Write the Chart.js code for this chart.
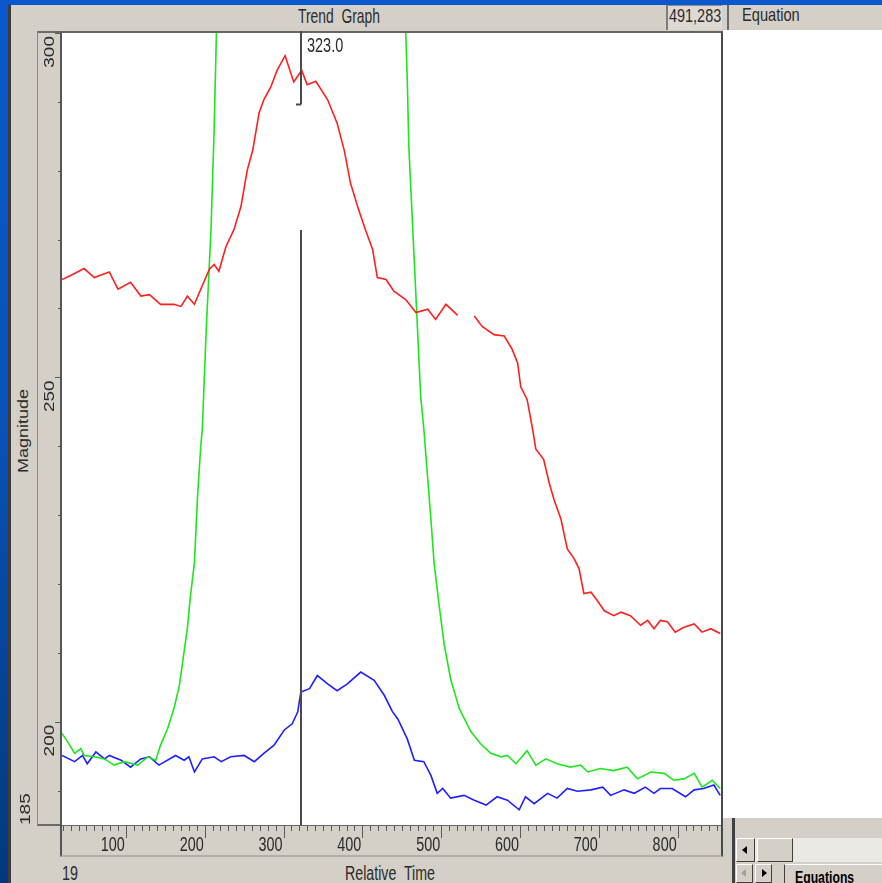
<!DOCTYPE html>
<html>
<head>
<meta charset="utf-8">
<title>Trend Graph</title>
<script src="https://cdn.jsdelivr.net/npm/chart.js@4.4.1/dist/chart.umd.min.js"></script>
<style>
  body { margin: 0; background: #d4d0c8; font-family: "Liberation Sans", Arial, sans-serif; }
  #janela { position: relative; width: 882px; height: 883px; overflow: hidden; background: #d4d0c8; }
  .box { position: absolute; box-sizing: border-box; }
  .txt { position: absolute; white-space: nowrap; line-height: 1; color: #2b2b2b; transform-origin: 0 0; }
  #grafico { position: absolute; left: 0; top: 0; }
</style>
</head>
<body>
<div id="janela">
  <!-- window frame -->
  <div class="box" style="left:0;top:0;width:882px;height:5px;background:#0a58cc"></div>
  <div class="box" style="left:0;top:0;width:8px;height:883px;background:linear-gradient(#0a58cc,#0a52bc 45%,#02397c)"></div>
  <div class="box" style="left:8px;top:5px;width:3px;height:878px;background:#3c3c3c"></div>

  <!-- title bar -->
  <div class="txt" style="left:298px;top:5px;font-size:21px;transform:scaleX(0.66)">Trend&nbsp; Graph</div>
  <div class="box" style="left:666px;top:5px;width:56px;height:25px;background:#dedad3;border-left:2px solid #7c7c7c;border-top:1px solid #8c8c8c"></div>
  <div class="txt" style="left:669px;top:6px;font-size:19px;transform:scaleX(0.76)">491,283</div>

  <!-- right panel -->
  <div class="box" style="left:727px;top:5px;width:2px;height:25px;background:#6a6a6a"></div>
  <div class="txt" style="left:742px;top:5px;font-size:19px;transform:scaleX(0.77)">Equation</div>
  <div class="box" style="left:723px;top:30px;width:159px;height:788px;background:#fff"></div>
  <div class="box" style="left:732px;top:818px;width:3px;height:65px;background:#404040"></div>
  <div class="box" style="left:736px;top:838px;width:146px;height:24px;background:#ebe9e4"></div>
  <div class="box" style="left:736px;top:838px;width:19px;height:24px;background:#d4d0c8;border:1px solid;border-color:#fff #404040 #404040 #fff"></div>
  <div class="box" style="left:742px;top:846px;width:0;height:0;border-top:4px solid transparent;border-bottom:4px solid transparent;border-right:5px solid #000"></div>
  <div class="box" style="left:757px;top:838px;width:36px;height:24px;background:#d4d0c8;border:1px solid;border-color:#fff #404040 #404040 #fff"></div>
  <div class="box" style="left:736px;top:864px;width:17px;height:19px;background:#d4d0c8;border:1px solid;border-color:#fff #404040 #404040 #fff"></div>
  <div class="box" style="left:741px;top:869px;width:0;height:0;border-top:4px solid transparent;border-bottom:4px solid transparent;border-right:5px solid #a0a0a0"></div>
  <div class="box" style="left:755px;top:864px;width:17px;height:19px;background:#d4d0c8;border:1px solid;border-color:#fff #404040 #404040 #fff"></div>
  <div class="box" style="left:762px;top:869px;width:0;height:0;border-top:4px solid transparent;border-bottom:4px solid transparent;border-left:5px solid #000"></div>
  <div class="box" style="left:784px;top:864px;width:98px;height:19px;border-left:1px solid #404040;border-top:1px solid #fff"></div>
  <div class="txt" style="left:795px;top:869px;font-size:17px;font-weight:bold;color:#000;transform:scaleX(0.72)">Equations</div>

  <!-- axis strips and plot -->
  <div class="box" style="left:37px;top:31px;width:25px;height:795px;border-left:1px solid #8a8a8a;border-top:2px solid #6a6a6a;border-bottom:2px solid #6a6a6a"></div>
  <div class="box" style="left:60px;top:31px;width:663px;height:795px;background:#fff;border-left:2px solid #555;border-top:2px solid #666;border-right:2px solid #4a4a4a;border-bottom:1px solid #666"></div>
  <div class="box" style="left:60px;top:825px;width:663px;height:32px;border-left:2px solid #555;border-right:2px solid #4a4a4a;border-bottom:2px solid #b2aea6"></div>

  <div class="txt" style="left:16px;top:491px;width:120px;text-align:center;font-size:18px;transform:rotate(-90deg) scale(1,0.78)">Magnitude</div>
  <div class="txt" style="left:62px;top:863px;font-size:20px;transform:scaleX(0.72)">19</div>
  <div class="txt" style="left:345px;top:863px;font-size:20px;transform:scaleX(0.71)">Relative&nbsp; Time</div>

  <canvas id="grafico" width="882" height="883"></canvas>
</div>

<script>
// red trace
const redTime = [19,30,47,60,79,90,106,119,130,144,161,170,178,187,195,206,212,218,227,237,246,254,261,269,275,284,292,302,313,323,330,341,356,368,377,385,394,404,413,419,430,440,455,468,483,493,506,521,530,542,552,567,580,590,597,601,609,616,620,630,637,643,652,660,669,675,681,690,698,707,719,728,740,753,762,770,778,787,797,808,821,831,842,854];
const redValue = [264.2,264.8,265.8,264.5,265.3,262.8,263.8,261.8,262.0,260.6,260.6,260.3,261.8,260.6,262.8,265.7,266.4,265.4,269.0,271.4,274.8,280.1,283.0,288.4,290.3,292.2,294.6,296.7,292.9,294.6,292.5,293.0,290.3,286.9,283.0,278.2,274.8,271.4,268.6,264.5,264.2,262.5,261.3,259.4,259.9,258.4,260.6,259.0,null,258.9,257.4,256.2,256.0,254.1,252.1,248.6,246.8,242.5,239.6,238.1,234.7,232.3,229.4,225.1,223.6,222.2,218.6,218.8,217.6,216.1,215.4,215.9,215.4,214.0,214.7,213.5,214.7,214.5,213.0,213.7,214.2,213.0,213.5,212.8];

// green trace (goes off the top between ~215 and ~455)
const greenTime = [19,26,35,43,47,60,73,85,98,115,128,138,144,153,161,168,172,178,182,187,189,191,195,197,202,208,212,215,230,330,440,455,457,459,462,466,470,474,478,483,487,491,497,504,512,523,538,550,563,576,584,595,609,620,633,647,664,677,686,702,719,736,749,766,783,795,808,821,831,844,854];
const greenValue = [198.3,197.1,195.4,196.1,195.1,194.9,194.6,193.7,194.2,193.7,194.9,194.4,196.6,199.0,201.9,205.3,208.6,213.5,218.3,223.1,228.0,232.8,240.0,242.5,257.0,271.4,285.9,300.5,330,380,330,300.3,293.2,283.5,276.3,266.6,257.0,247.3,242.5,235.2,229.4,223.1,217.3,211.1,206.2,201.9,198.5,196.8,195.4,194.9,195.1,193.9,195.8,193.7,194.6,193.9,193.4,193.7,192.7,193.2,192.9,193.4,191.7,192.7,192.5,191.5,191.7,192.5,190.5,191.5,190.3];

// blue trace
const blueTime = [19,35,45,51,62,73,79,94,106,119,130,142,163,174,180,187,197,212,221,233,250,263,275,288,301,311,318,322,333,343,356,368,381,398,415,428,438,445,457,466,478,487,495,502,512,529,542,557,571,584,599,607,618,635,647,660,673,690,705,715,732,745,759,770,778,793,810,821,833,846,854];
const blueValue = [195.1,194.2,195.1,193.9,195.6,194.6,195.1,194.4,193.4,194.6,194.9,193.7,195.1,194.4,194.9,192.7,194.6,194.9,194.2,194.9,195.1,194.2,195.4,196.6,198.8,199.7,201.4,204.3,204.8,206.7,205.5,204.5,205.5,207.2,206.0,203.8,201.5,200.4,197.5,194.4,194.2,192.2,189.6,190.3,188.9,189.3,188.6,187.9,189.1,188.6,187.2,189.1,188.1,189.6,188.9,190.3,189.9,190.1,190.5,189.3,190.1,189.6,190.5,189.6,190.3,190.3,189.1,190.1,190.3,190.8,189.3];

const xRange = [19, 855];
const yRange = [185, 300];
const xLabels = [100, 200, 300, 400, 500, 600, 700, 800];
const yLabels = [300, 250, 200];
const cursorTime = 323;
const cursorGap = [289.6, 271.4];

function toPoints(xs, ys) {
    return xs.map((t, i) => ({ x: t, y: ys[i] }));
}

function texto(ctx, str, x, y, size, squeeze, align, rotated) {
    ctx.save();
    ctx.translate(x, y);
    if (rotated) {
        ctx.rotate(-Math.PI / 2);
        ctx.scale(1, squeeze);
    } else {
        ctx.scale(squeeze, 1);
    }
    ctx.font = size + 'px "Liberation Sans", Arial, sans-serif';
    ctx.textAlign = align;
    ctx.textBaseline = 'alphabetic';
    ctx.fillStyle = '#2b2b2b';
    ctx.fillText(str, 0, 0);
    ctx.restore();
}

const reguas = {
    id: 'reguas',
    afterDraw(chart) {
        const { ctx, chartArea: area, scales: { x, y } } = chart;
        ctx.save();
        ctx.strokeStyle = '#5a5a5a';
        ctx.lineWidth = 1;

        // ruler below the plot
        for (let t = Math.ceil(xRange[0] / 10) * 10; t <= xRange[1]; t += 10) {
            const px = Math.round(x.getPixelForValue(t)) + 0.5;
            const big = t % 100 === 0;
            ctx.beginPath();
            ctx.moveTo(px, area.bottom + 1);
            ctx.lineTo(px, area.bottom + (big ? 13 : 6));
            ctx.stroke();
        }
        xLabels.forEach(t => {
            texto(ctx, String(t), x.getPixelForValue(t) - 1, area.bottom + 26, 20, 0.72, 'right', false);
        });

        // ticks left of the plot
        for (let v = 190; v <= yRange[1]; v += 10) {
            const py = Math.round(y.getPixelForValue(v)) + 0.5;
            const big = v % 50 === 0;
            ctx.beginPath();
            ctx.moveTo(area.left - 2, py);
            ctx.lineTo(area.left - (big ? 7 : 4), py);
            ctx.stroke();
        }
        yLabels.forEach(v => {
            texto(ctx, String(v), 54, y.getPixelForValue(v) + 3, 19, 0.78, 'right', true);
        });
        texto(ctx, String(yRange[0]), 30, area.bottom, 19, 0.78, 'left', true);

        // cursor
        const cx = Math.round(x.getPixelForValue(cursorTime)) - 1;
        const gapTop = y.getPixelForValue(cursorGap[0]);
        ctx.strokeStyle = '#4a4a4a';
        ctx.lineWidth = 2;
        ctx.beginPath();
        ctx.moveTo(cx, area.top - 2);
        ctx.lineTo(cx, gapTop);
        ctx.moveTo(cx - 5, gapTop);
        ctx.lineTo(cx, gapTop);
        ctx.moveTo(cx, y.getPixelForValue(cursorGap[1]));
        ctx.lineTo(cx, area.bottom);
        ctx.stroke();
        texto(ctx, cursorTime.toFixed(1), cx + 6, area.top + 19, 21, 0.69, 'left', false);
        ctx.restore();
    }
};

function linha(data, cor) {
    return {
        data: data,
        borderColor: cor,
        borderWidth: 1.6,
        pointRadius: 0,
        tension: 0,
        spanGaps: false,
        clip: 0
    };
}

new Chart(document.getElementById('grafico'), {
    type: 'line',
    data: {
        datasets: [
            linha(toPoints(redTime, redValue), '#ff1f1f'),
            linha(toPoints(greenTime, greenValue), '#1ee61e'),
            linha(toPoints(blueTime, blueValue), '#1f1fff')
        ]
    },
    options: {
        responsive: false,
        animation: false,
        devicePixelRatio: 1,
        layout: { padding: { left: 62, top: 33, right: 161, bottom: 58 } },
        plugins: { legend: { display: false }, tooltip: { enabled: false } },
        scales: {
            x: { type: 'linear', min: xRange[0], max: xRange[1], display: false },
            y: { min: yRange[0], max: yRange[1], display: false }
        }
    },
    plugins: [reguas]
});
</script>
</body>
</html>
